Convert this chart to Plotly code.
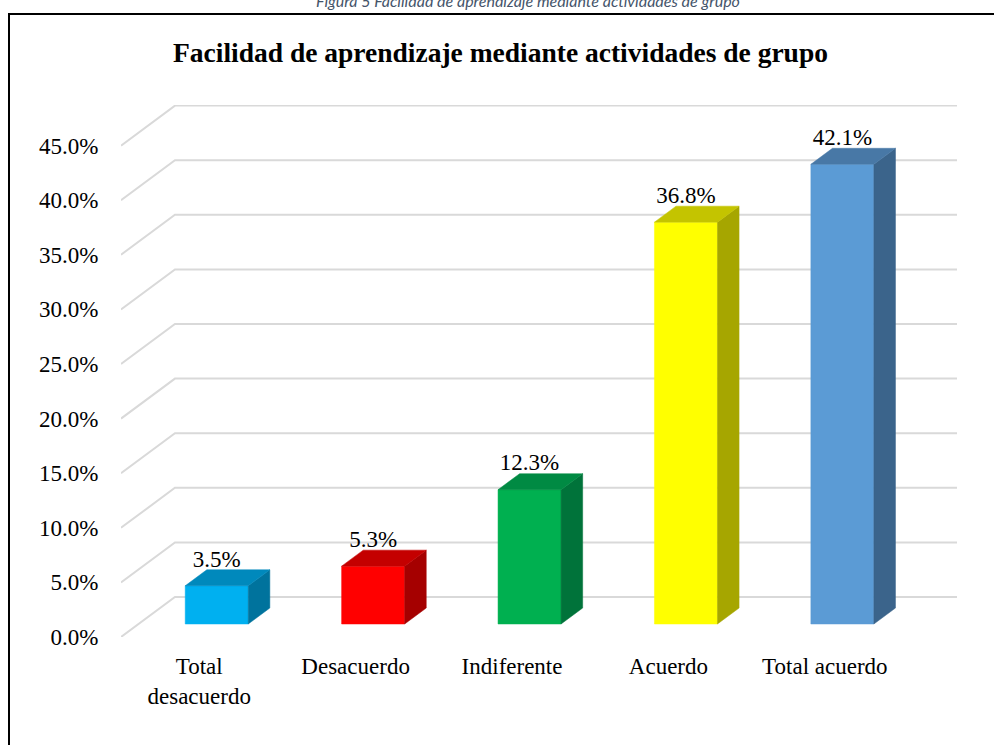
import plotly.graph_objects as go

# ---------------- data ----------------
categories = ["Total<br>desacuerdo", "Desacuerdo", "Indiferente", "Acuerdo", "Total acuerdo"]
values = [3.5, 5.3, 12.3, 36.8, 42.1]
value_labels = ["3.5%", "5.3%", "12.3%", "36.8%", "42.1%"]
front_colors = ["#00B0F0", "#FF0000", "#00B050", "#FFFF00", "#5B9BD5"]
side_colors = ["#00739D", "#A50000", "#00733A", "#A6A600", "#3B648B"]
top_colors = ["#0089BC", "#C40000", "#008A43", "#C4C400", "#4878A6"]
ytick_vals = [0, 5, 10, 15, 20, 25, 30, 35, 40, 45]
ytick_text = [f"{v:.1f}%" for v in ytick_vals]

title_text = "Facilidad de aprendizaje mediante actividades de grupo"
caption_text = "Figura 5 Facilidad de aprendizaje mediante actividades de grupo"

# ---------------- 3D style parameters (axis units) ----------------
DX = 0.345      # depth offset along x (category units)
DY = 3.663      # depth offset along y (percent units)
D0, D1 = 0.325, 0.725   # bar depth span as fraction of full depth
BW = 0.403      # bar front width (category units)
XMIN, XMAX = -0.5, len(categories) - 0.5

SERIF = "Times New Roman, Liberation Serif, serif"

fig = go.Figure()

# gridlines: slanted segment on the left wall + horizontal line on the back wall
gx, gy = [], []
for v in ytick_vals:
    gx += [XMIN, XMIN + DX, XMAX + DX, None]
    gy += [v, v + DY, v + DY, None]
fig.add_trace(go.Scatter(x=gx, y=gy, mode="lines",
                         line=dict(color="#D9D9D9", width=2),
                         hoverinfo="skip", showlegend=False))

# bars (front, side, top faces)
for i, v in enumerate(values):
    xc = i + D0 * DX
    yb = D0 * DY
    yt = yb + v
    xl, xr = xc - BW / 2, xc + BW / 2
    ddx, ddy = (D1 - D0) * DX, (D1 - D0) * DY
    faces = [
        ([xl, xr, xr, xl, xl], [yb, yb, yt, yt, yb], front_colors[i]),
        ([xr, xr + ddx, xr + ddx, xr, xr], [yb, yb + ddy, yt + ddy, yt, yb], side_colors[i]),
        ([xl, xl + ddx, xr + ddx, xr, xl], [yt, yt + ddy, yt + ddy, yt, yt], top_colors[i]),
    ]
    for fx, fy, col in faces:
        fig.add_trace(go.Scatter(x=fx, y=fy, mode="lines", fill="toself",
                                 fillcolor=col, line=dict(color=col, width=0.5),
                                 hoverinfo="skip", showlegend=False))

# data labels
lab_x = [i + D0 * DX for i in range(len(values))]
lab_y = [D0 * DY + v + (D1 - D0) * DY + 0.82 for v in values]
fig.add_trace(go.Scatter(x=lab_x, y=lab_y, mode="text", text=value_labels,
                         textposition="middle center",
                         textfont=dict(family=SERIF, size=23, color="#000000"),
                         hoverinfo="skip", showlegend=False))

fig.update_layout(
    width=994, height=745,
    margin=dict(l=121, r=37, t=105, b=108),
    paper_bgcolor="white", plot_bgcolor="white",
    showlegend=False,
    title=dict(text="<b>" + title_text + "</b>", x=500.5 / 994, xanchor="center",
               y=1 - 52 / 745, yanchor="middle",
               font=dict(family=SERIF, size=27.5, color="#000000")),
    xaxis=dict(range=[XMIN, XMAX + DX], tickvals=list(range(len(categories))),
               ticktext=categories, showgrid=False, zeroline=False, showline=False,
               ticks="outside", ticklen=8, tickcolor="rgba(0,0,0,0)",
               tickfont=dict(family=SERIF, size=23, color="#000000"),
               fixedrange=True),
    yaxis=dict(range=[0, 48.72], tickvals=ytick_vals, ticktext=ytick_text,
               showgrid=False, zeroline=False, showline=False,
               ticks="outside", ticklen=17, tickcolor="rgba(0,0,0,0)",
               tickfont=dict(family=SERIF, size=23, color="#000000"),
               fixedrange=True),
    annotations=[dict(text="<i>" + caption_text + "</i>", xref="paper", yref="paper",
                      x=(528 - 121) / 836, y=1 + 104 / 532, xanchor="center", yanchor="middle",
                      showarrow=False,
                      font=dict(family="Lato, Noto Sans, sans-serif", size=16, color="#44546A"))],
    shapes=[dict(type="rect", xref="paper", yref="paper",
                 x0=(9 - 121) / 836, x1=1.2, y0=-0.5, y1=(637 - 14) / 532,
                 line=dict(color="#000000", width=2), fillcolor="rgba(0,0,0,0)", layer="below")],
)

fig.write_html("out.html", config={"displayModeBar": False},
               post_script="document.body.style.margin='0';document.body.style.padding='0';")
